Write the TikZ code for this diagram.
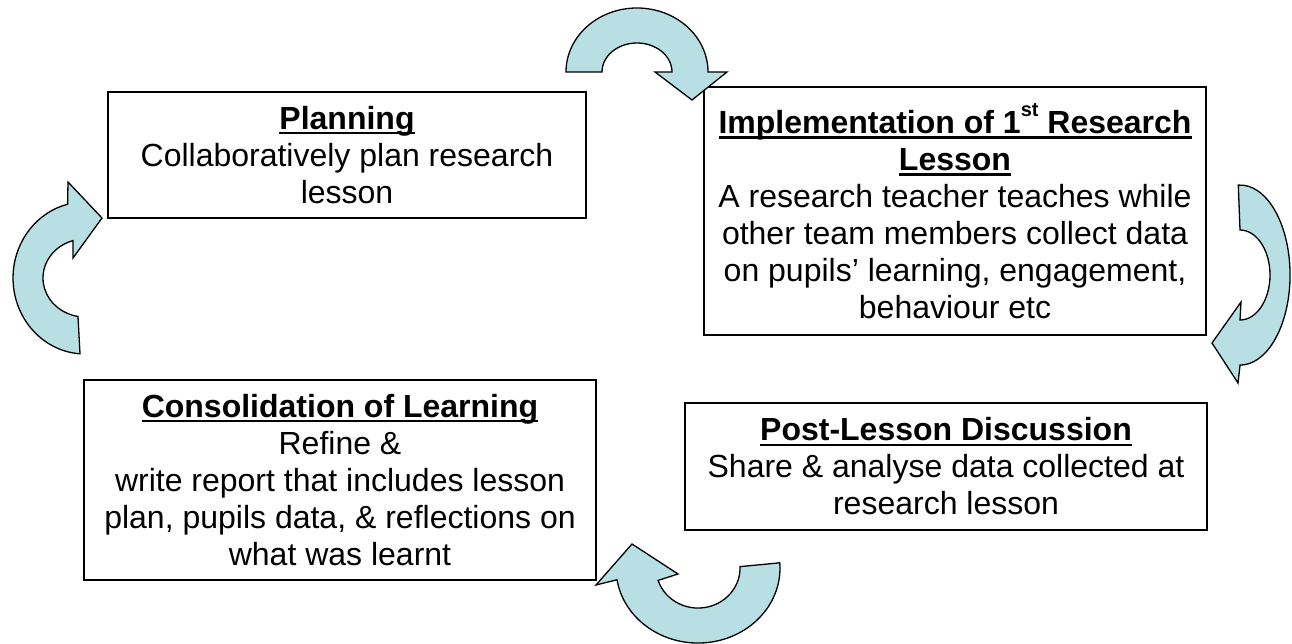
\documentclass[tikz,border=0pt]{standalone}
\usepackage{fontspec}
\setmainfont{Liberation Sans}
\definecolor{arrowfill}{HTML}{B8DFE4}
\newcommand\tul[1]{\setbox0\hbox{\bfseries #1}\rlap{\rule[-5pt]{\wd0}{2.4pt}}\box0}
\newcommand\supst{\raisebox{0.55em}{\fontsize{20}{20}\selectfont st}}
\tikzset{
  box/.style={draw=black, line width=1.8pt, align=center, inner sep=0pt,
    font=\fontsize{32}{37}\selectfont},
  carrow/.style={draw=black, line width=1.3pt, fill=arrowfill, line join=miter}
}
\begin{document}
\begin{tikzpicture}[x=1pt,y=-1pt]
\useasboundingbox (0,0) rectangle (1292,644);

\node[box, minimum width=478pt, minimum height=126pt] (plan) at (347,155)
  {\tul{Planning}\\Collaboratively plan research\\lesson};
\node[box, minimum width=502pt, minimum height=248pt] (impl) at (955,211)
  {\tul{Implementation of 1\supst{} Research}\\\tul{Lesson}\\A research teacher teaches while\\other team members collect data\\on pupils’ learning, engagement,\\behaviour etc};
\node[box, minimum width=522pt, minimum height=127pt] (post) at (946,466.5)
  {\tul{Post-Lesson Discussion}\\Share \& analyse data collected at\\research lesson};
\node[box, minimum width=512pt, minimum height=200pt] (cons) at (340,480)
  {\tul{Consolidation of Learning}\\Refine \&\\write report that includes lesson\\plan, pupils data, \& reflections on\\what was learnt};

% top arrow (planning -> implementation)
\draw[carrow] (566,72) arc[start angle=180,end angle=360,x radius=71,y radius=64]
  -- (727,72) -- (692,100) -- (655,72) -- (672,72)
  arc[start angle=0,end angle=-180,x radius=35,y radius=29] -- cycle;

% right arrow (implementation -> post-lesson)
\draw[carrow] (1238.3,185.1) arc[start angle=268,end angle=450,x radius=50,y radius=90]
  -- (1238,383) -- (1212,343) -- (1241,302) -- (1240,320)
  arc[start angle=90,end angle=-90,x radius=30,y radius=45] -- cycle;

% bottom arrow (post-lesson -> consolidation)
\draw[carrow] (779.8,562.8) arc[start angle=-4,end angle=171,x radius=82,y radius=75]
  -- (596,585) -- (632,544) -- (678,574) -- (658.1,580.4)
  arc[start angle=162,end angle=-2,x radius=42,y radius=40] -- cycle;

% left arrow (consolidation -> planning)
\draw[carrow] (80,353.8) arc[start angle=94,end angle=256,x radius=72,y radius=76]
  -- (68,182) -- (102,218) -- (73,258) -- (73,240.6)
  arc[start angle=253.4,end angle=99.6,x radius=42,y radius=39] -- cycle;
\end{tikzpicture}
\end{document}
